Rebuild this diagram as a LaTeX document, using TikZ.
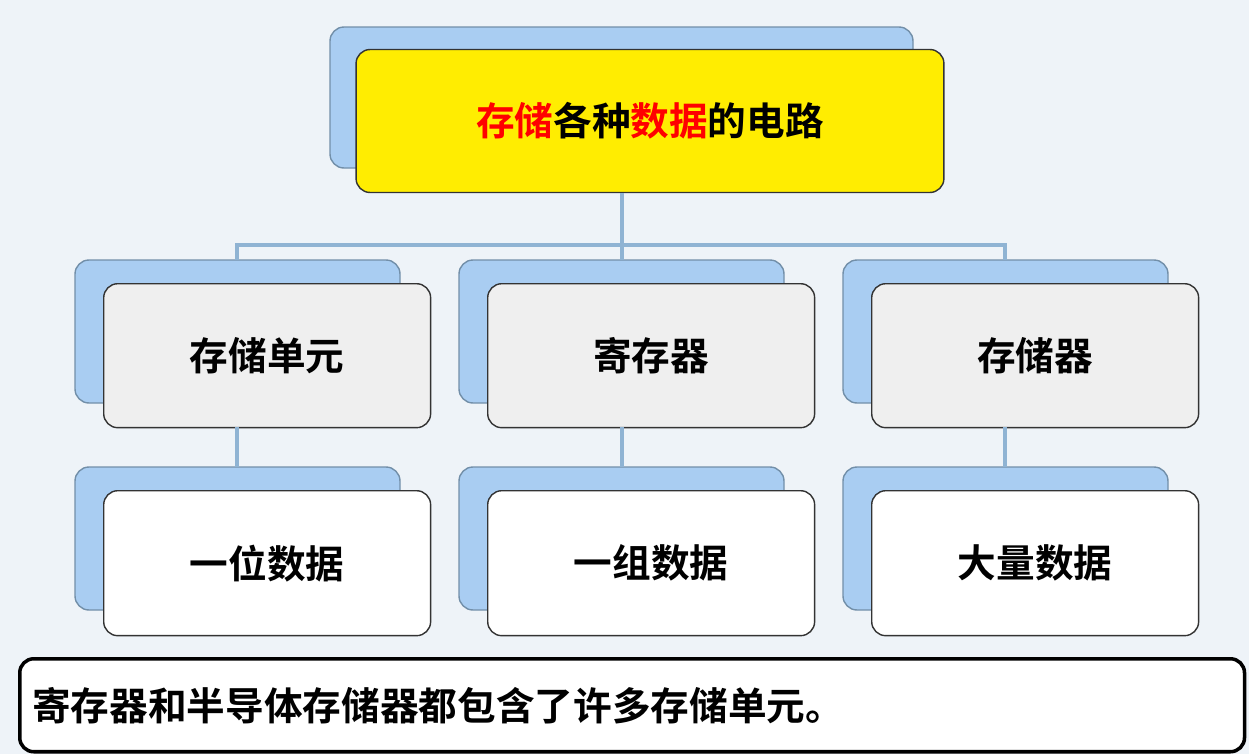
\documentclass[tikz,border=0pt]{standalone}
\usepackage{fontspec}
\setmainfont{Noto Sans CJK SC}[BoldFont={Noto Sans CJK SC Bold}]
\definecolor{bgcol}{HTML}{EEF3F8}
\definecolor{linecol}{HTML}{8FB3D3}
\definecolor{backcol}{HTML}{A9CDF2}
\definecolor{graycol}{HTML}{EFEFEF}
\tikzset{
  backbox/.style={draw=linecol!80!black, fill=backcol, rounded corners=8pt, line width=0.8pt},
  frontbox/.style={draw=black!80, rounded corners=8pt, line width=0.8pt, font=\bfseries\fontsize{22}{26}\selectfont},
  link/.style={draw=linecol, line width=2.2pt}
}
\begin{document}
\begin{tikzpicture}[x=0.02cm, y=-0.02cm]

  \fill[bgcol] (0,0) rectangle (1249,754);

  % top
  \draw[backbox] (330,27) rectangle (913,168);
  \node (top) [frontbox, fill=yellow!95!orange, minimum width=11.76cm, minimum height=2.86cm] at (650,121)
    {\textcolor{red}{存储}各种\textcolor{red}{数据}的电路};

  % second row
  \foreach \x/\n/\t in {103/a/存储单元, 487/b/寄存器, 871/c/存储器} {
    \draw[backbox] (\x-28,260) rectangle (\x+297,403);
    \node (\n) [frontbox, fill=graycol, minimum width=6.54cm, minimum height=2.88cm, anchor=north west] at (\x,283) {\t};
  }

  % third row
  \foreach \x/\n/\t in {103/d/一位数据, 487/e/一组数据, 871/f/大量数据} {
    \draw[backbox] (\x-28,467) rectangle (\x+297,610);
    \node (\n) [frontbox, fill=white, minimum width=6.54cm, minimum height=2.9cm, anchor=north west] at (\x,490) {\t};
  }

  \coordinate (hub) at (622,245);
  \draw[link] (622,193) -- (hub);
  \draw[link] (237,260) |- (1005,245) -- (1005,260);
  \draw[link] (622,245) -- (622,260);
  \draw[link] (237,427) -- (237,467);
  \draw[link] (622,427) -- (622,467);
  \draw[link] (1005,427) -- (1005,467);

  % note
  \node (note) [draw=black, line width=2pt, fill=white, rounded corners=8pt, minimum width=24.5cm, minimum height=1.86cm,
    anchor=north west, text width=24cm, font=\bfseries\fontsize{22}{26}\selectfont] at (18,657)
    {寄存器和半导体存储器都包含了许多存储单元。};
\end{tikzpicture}
\end{document}
